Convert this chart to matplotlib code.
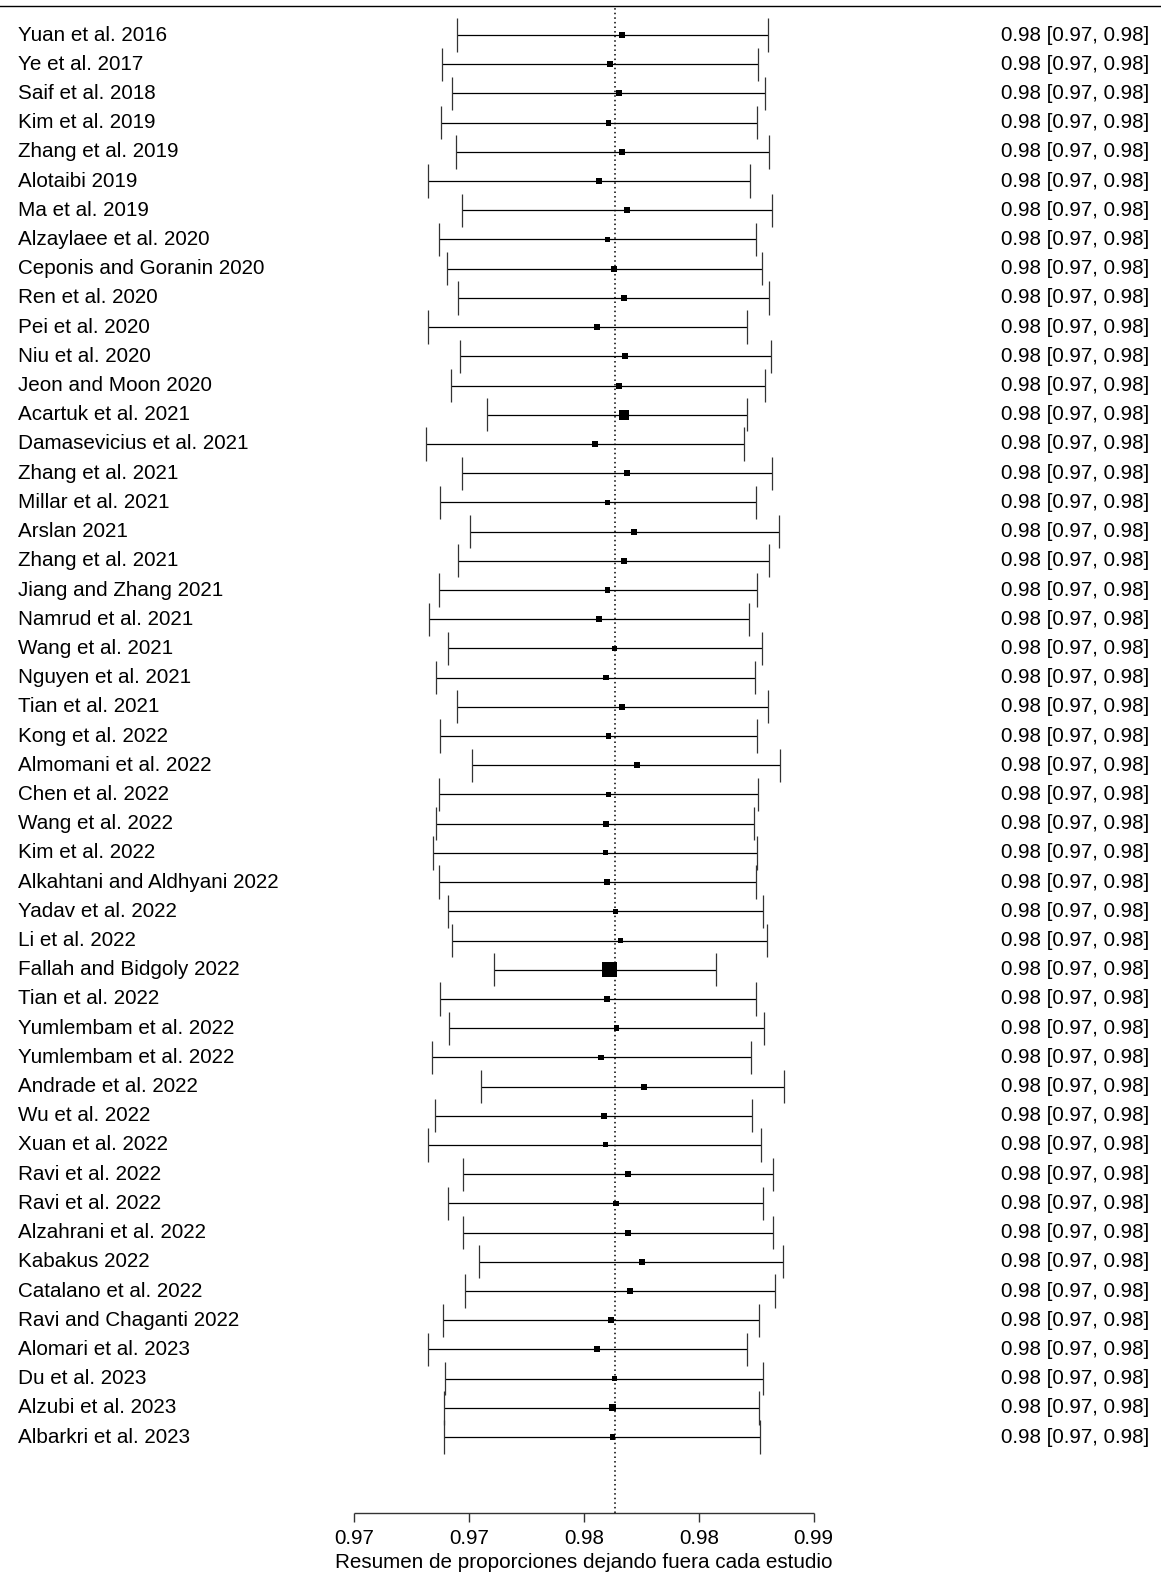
import matplotlib
matplotlib.use("Agg")
import matplotlib.pyplot as plt
import numpy as np

plt.rcParams["font.family"] = ["Liberation Sans", "DejaVu Sans"]

# leave-one-out summaries (one row per omitted study)
studies = [
    "Yuan et al. 2016", "Ye et al. 2017", "Saif et al. 2018", "Kim et al. 2019",
    "Zhang et al. 2019", "Alotaibi 2019", "Ma et al. 2019", "Alzaylaee et al. 2020",
    "Ceponis and Goranin 2020", "Ren et al. 2020", "Pei et al. 2020", "Niu et al. 2020",
    "Jeon and Moon 2020", "Acartuk et al. 2021", "Damasevicius et al. 2021",
    "Zhang et al. 2021", "Millar et al. 2021", "Arslan 2021", "Zhang et al. 2021",
    "Jiang and Zhang 2021", "Namrud et al. 2021", "Wang et al. 2021", "Nguyen et al. 2021",
    "Tian et al. 2021", "Kong et al. 2022", "Almomani et al. 2022", "Chen et al. 2022",
    "Wang et al. 2022", "Kim et al. 2022", "Alkahtani and Aldhyani 2022", "Yadav et al. 2022",
    "Li et al. 2022", "Fallah and Bidgoly 2022", "Tian et al. 2022", "Yumlembam et al. 2022",
    "Yumlembam et al. 2022", "Andrade et al. 2022", "Wu et al. 2022", "Xuan et al. 2022",
    "Ravi et al. 2022", "Ravi et al. 2022", "Alzahrani et al. 2022", "Kabakus 2022",
    "Catalano et al. 2022", "Ravi and Chaganti 2022", "Alomari et al. 2023", "Du et al. 2023",
    "Alzubi et al. 2023", "Albarkri et al. 2023",
]
est = [
    0.97934, 0.97891, 0.97922, 0.97886, 0.97934, 0.97854, 0.97950, 0.97882, 0.97906,
    0.97939, 0.97847, 0.97943, 0.97922, 0.97939, 0.97839, 0.97951, 0.97883, 0.97976,
    0.97941, 0.97882, 0.97854, 0.97907, 0.97877, 0.97934, 0.97886, 0.97984, 0.97886,
    0.97878, 0.97876, 0.97882, 0.97911, 0.97927, 0.97890, 0.97882, 0.97914, 0.97860,
    0.98010, 0.97870, 0.97876, 0.97955, 0.97911, 0.97955, 0.98002, 0.97962, 0.97894,
    0.97847, 0.97906, 0.97899, 0.97901,
]
ci_lb = [
    0.97358, 0.97306, 0.97342, 0.97303, 0.97354, 0.97258, 0.97375, 0.97295, 0.97323,
    0.97363, 0.97258, 0.97368, 0.97339, 0.97463, 0.97250, 0.97375, 0.97298, 0.97403,
    0.97363, 0.97295, 0.97262, 0.97326, 0.97285, 0.97358, 0.97299, 0.97411, 0.97295,
    0.97286, 0.97274, 0.97295, 0.97326, 0.97342, 0.97487, 0.97298, 0.97331, 0.97270,
    0.97443, 0.97282, 0.97258, 0.97379, 0.97326, 0.97379, 0.97435, 0.97386, 0.97310,
    0.97258, 0.97318, 0.97314, 0.97314,
]
ci_ub = [
    0.98442, 0.98406, 0.98430, 0.98402, 0.98443, 0.98378, 0.98455, 0.98398, 0.98419,
    0.98445, 0.98367, 0.98450, 0.98430, 0.98367, 0.98357, 0.98455, 0.98398, 0.98478,
    0.98445, 0.98403, 0.98375, 0.98419, 0.98395, 0.98442, 0.98403, 0.98483, 0.98407,
    0.98393, 0.98402, 0.98398, 0.98422, 0.98438, 0.98261, 0.98398, 0.98426, 0.98382,
    0.98496, 0.98385, 0.98418, 0.98458, 0.98422, 0.98458, 0.98492, 0.98466, 0.98411,
    0.98367, 0.98422, 0.98411, 0.98413,
]
# relative weights -> square size
wts = [
    1.0, 1.0, 1.0, 1.0, 1.0, 1.0, 1.0, 0.9, 0.9,
    1.0, 1.0, 1.0, 1.0, 2.8, 1.0, 1.0, 0.8, 1.0,
    1.0, 0.8, 1.0, 0.8, 0.8, 1.0, 0.8, 1.0, 0.8,
    1.0, 0.7, 1.0, 0.8, 0.7, 6.25, 1.0, 0.9, 0.8,
    1.0, 1.0, 0.7, 1.0, 0.9, 1.0, 1.0, 1.0, 1.0,
    1.0, 0.8, 1.3, 0.8,
]
summary = 0.9791
xticks = [0.970, 0.974, 0.978, 0.982, 0.986]
xlabel = "Resumen de proporciones dejando fuera cada estudio"

fig = plt.figure(figsize=(11.61, 15.74), dpi=100)
ax = fig.add_axes([0, 0, 1, 1])
ax.set_xlim(0.95768, 0.99809)
ax.set_ylim(-3.687, 50.199)
ax.axis("off")

k = len(studies)
rows = np.arange(k, 0, -1)
y_axis = -1.59
cap = 0.57
fs = 14.9

# intervals with end caps
ax.hlines(rows, ci_lb, ci_ub, color="black", lw=0.9)
ax.vlines(ci_lb, rows - cap, rows + cap, color="#333333", lw=0.9)
ax.vlines(ci_ub, rows - cap, rows + cap, color="#333333", lw=0.9)
ax.scatter(est, rows, marker="s", s=18.5 * np.array(wts), color="black",
           linewidths=0, zorder=3)

# reference line at the overall estimate + top rule
ax.vlines(summary, y_axis, k + 1, color="black", lw=1.1, linestyles=(0, (1, 2)))
ax.axhline(k + 1, color="black", lw=1.0)

# labels on both sides
trans = ax.get_yaxis_transform()
for y, name, e, lo, hi in zip(rows, studies, est, ci_lb, ci_ub):
    ax.text(18 / 1161, y, name, transform=trans, ha="left", va="center", fontsize=fs)
    ax.text(1149 / 1161, y, f"{e:.2f} [{lo:.2f}, {hi:.2f}]", transform=trans,
            ha="right", va="center", fontsize=fs)

# hand-drawn x axis
ax.hlines(y_axis, xticks[0], xticks[-1], color="#333333", lw=1.0)
ax.vlines(xticks, y_axis - 0.31, y_axis, color="#333333", lw=1.0)
for t in xticks:
    ax.text(t, -2.48, f"{t:.2f}", ha="center", va="center", fontsize=fs)
ax.text(np.mean([xticks[0], xticks[-1]]), -3.30, xlabel, ha="center", va="center",
        fontsize=fs)

fig.savefig("out.png", dpi=100, facecolor="white")
